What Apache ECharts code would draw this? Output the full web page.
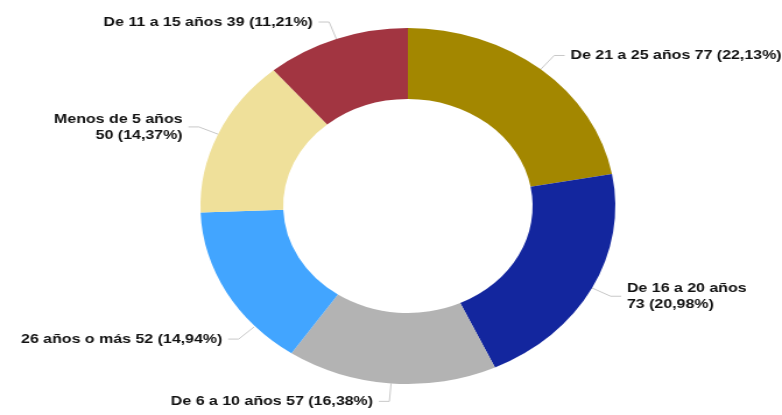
<!DOCTYPE html>
<html>
<head>
<meta charset="utf-8">
<script src="https://cdn.jsdelivr.net/npm/echarts@6/dist/echarts.min.js"></script>
<style>
  html, body { margin: 0; padding: 0; background: #fff; overflow: hidden; }
  #wrap { width: 782px; height: 415px; overflow: hidden; }
  /* the source chart is stretched horizontally */
  #chart { width: 671px; height: 415px; transform: scaleX(1.1654); transform-origin: 0 0; }
</style>
</head>
<body>
<div id="wrap"><div id="chart"></div></div>
<script>
// grupos de antigüedad
const categories = ['De 21 a 25 años', 'De 16 a 20 años', 'De 6 a 10 años', '26 años o más', 'Menos de 5 años', 'De 11 a 15 años']
const values = [77, 73, 57, 52, 50, 39]
const colors = ['#a38700', '#13269e', '#b3b3b3', '#42a5ff', '#efe09a', '#a23541']
// etiquetas en dos líneas
const twoLines = [false, true, false, false, true, false]

const total = values.reduce((a, b) => a + b, 0)

const CX = 350, CY = 206, R_IN = 107, R_OUT = 178

const chart = echarts.init(document.getElementById('chart'))

// punto sobre el anillo, ángulo en grados desde arriba en sentido horario
const polar = (deg, r) => {
  const a = deg * Math.PI / 180
  return [CX + r * Math.sin(a), CY - r * Math.cos(a)]
}

chart.setOption({
  animation: false,
  series: [{
    type: 'pie',
    center: [CX, CY],
    radius: [R_IN, R_OUT],
    startAngle: 90,
    clockwise: true,
    data: categories.map((name, i) => ({
      name: name,
      value: values[i],
      itemStyle: { color: colors[i] }
    })),
    label: {
      show: true,
      color: '#111',
      fontFamily: 'Liberation Sans, Arial, sans-serif',
      fontWeight: 'bold',
      fontSize: 13.7,
      lineHeight: 16,
      overflow: 'none',
      formatter: (p) => {
        const pct = (p.value / total * 100).toFixed(2).replace('.', ',')
        const sep = twoLines[p.dataIndex] ? '\n' : ' '
        return p.name + sep + p.value + ' (' + pct + '%)'
      }
    },
    labelLine: {
      show: true,
      length: 18,
      length2: 9,
      lineStyle: { color: '#c8c8c8', width: 1 }
    },
    // la etiqueta de "26 años o más" sale más abajo en el original
    labelLayout: (p) => {
      if (p.dataIndex !== 3) return {}
      const p0 = polar(227.5, R_OUT + 1)
      const p1 = polar(227.5, R_OUT + 19)
      const p2 = [p1[0] - 9, p1[1]]
      return {
        x: p2[0] - 5,
        y: p2[1],
        align: 'right',
        verticalAlign: 'middle',
        labelLinePoints: [p0, p1, p2]
      }
    },
    emphasis: { disabled: true }
  }]
})
</script>
</body>
</html>
